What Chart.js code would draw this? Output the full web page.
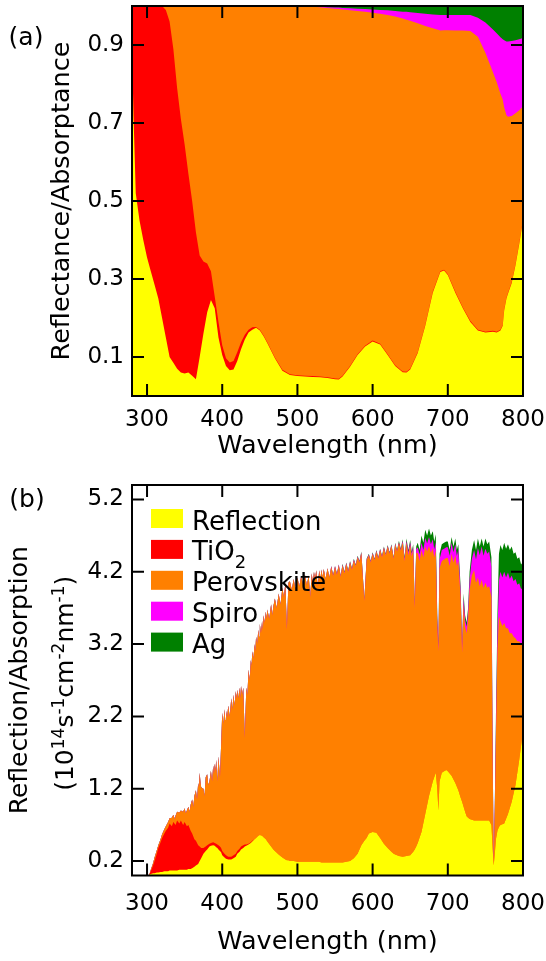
<!DOCTYPE html>
<html>
<head>
<meta charset="utf-8">
<script src="https://cdn.jsdelivr.net/npm/chart.js@4.4.1/dist/chart.umd.min.js"></script>
<style>
  body { margin: 0; background: #fff; }
  canvas { display: block; }
</style>
</head>
<body>
<canvas id="chartA" width="546" height="470"></canvas>
<canvas id="chartB" width="546" height="491"></canvas>
<script>
// layer names / colours shared by both panels
const layerNames = ['Reflection', 'TiO2', 'Perovskite', 'Spiro', 'Ag'];
const layerColors = ['#ffff00', '#ff0000', '#ff8000', '#ff00ff', '#008000'];

const xTicks = [300, 400, 500, 600, 700, 800];
const yTicksA = [0.1, 0.3, 0.5, 0.7, 0.9];
const yTicksB = [0.2, 1.2, 2.2, 3.2, 4.2, 5.2];

// (a) upper edge of each stacked band (cumulative)
const waveA = [280, 282, 285, 290, 295, 300, 305, 310, 315, 320, 325, 330, 335, 340, 345, 350, 355, 360, 365, 370,
  375, 380, 385, 390, 395, 400, 405, 410, 415, 420, 425, 430, 435, 440, 445, 450, 455, 460, 470, 480,
  490, 500, 510, 520, 530, 540, 550, 555, 560, 570, 580, 590, 600, 610, 620, 630, 640, 645, 650, 660,
  670, 680, 690, 695, 700, 710, 720, 730, 740, 750, 760, 765, 770, 773, 775, 778, 780, 785, 790, 795, 800];
const reflA = [0.89, 0.72, 0.52, 0.45, 0.40, 0.355, 0.32, 0.285, 0.25, 0.20, 0.15, 0.10, 0.085, 0.07, 0.06, 0.058, 0.06, 0.052, 0.043, 0.10,
  0.16, 0.215, 0.246, 0.225, 0.15, 0.105, 0.077, 0.066, 0.068, 0.09, 0.12, 0.145, 0.163, 0.17, 0.175, 0.168, 0.153, 0.135, 0.097, 0.065,
  0.054, 0.051, 0.05, 0.049, 0.048, 0.046, 0.043, 0.042, 0.05, 0.075, 0.105, 0.127, 0.14, 0.132, 0.105, 0.077, 0.061, 0.06, 0.068, 0.11,
  0.18, 0.265, 0.318, 0.322, 0.31, 0.265, 0.225, 0.19, 0.168, 0.163, 0.165, 0.163, 0.168, 0.18, 0.22, 0.25, 0.262, 0.29, 0.335, 0.39, 0.45];
const tio2A = [1, 1, 1, 1, 1, 1, 1, 1, 1, 1, 0.99, 0.96, 0.89, 0.79, 0.71, 0.645, 0.57, 0.5, 0.42, 0.36,
  0.345, 0.34, 0.32, 0.255, 0.19, 0.13, 0.097, 0.086, 0.09, 0.112, 0.138, 0.157, 0.17, 0.176, 0.177, 0.17, 0.155, 0.137, 0.099, 0.067,
  0.056, 0.053, 0.052, 0.051, 0.05, 0.048, 0.045, 0.044, 0.052, 0.077, 0.107, 0.129, 0.142, 0.134, 0.107, 0.079, 0.063, 0.062, 0.07, 0.112,
  0.182, 0.267, 0.32, 0.324, 0.312, 0.267, 0.227, 0.192, 0.17, 0.165, 0.167, 0.165, 0.17, 0.182, 0.222, 0.252, 0.264, 0.292, 0.337, 0.392, 0.452];
const perovA = [1, 1, 1, 1, 1, 1, 1, 1, 1, 1, 1, 1, 1, 1, 1, 1, 1, 1, 1, 1,
  1, 1, 1, 1, 1, 1, 1, 1, 1, 1, 1, 1, 1, 1, 1, 1, 1, 1, 1, 1,
  1, 1, 0.999, 0.998, 0.997, 0.995, 0.993, 0.992, 0.991, 0.989, 0.987, 0.985, 0.983, 0.98, 0.977, 0.973, 0.968, 0.965, 0.962, 0.956,
  0.949, 0.943, 0.937, 0.938, 0.938, 0.937, 0.937, 0.936, 0.921, 0.88, 0.83, 0.805, 0.775, 0.76, 0.74, 0.72, 0.716, 0.718, 0.725, 0.733, 0.742];
const spiroA = [1, 1, 1, 1, 1, 1, 1, 1, 1, 1, 1, 1, 1, 1, 1, 1, 1, 1, 1, 1,
  1, 1, 1, 1, 1, 1, 1, 1, 1, 1, 1, 1, 1, 1, 1, 1, 1, 1, 1, 1,
  1, 1, 0.999, 0.998, 0.998, 0.997, 0.996, 0.996, 0.995, 0.994, 0.993, 0.992, 0.991, 0.99, 0.989, 0.987, 0.985, 0.985, 0.984, 0.982,
  0.98, 0.978, 0.977, 0.977, 0.977, 0.977, 0.977, 0.977, 0.97, 0.958, 0.94, 0.93, 0.92, 0.915, 0.912, 0.909, 0.909, 0.91, 0.912, 0.915, 0.918];
const agA = [1, 1, 1, 1, 1, 1, 1, 1, 1, 1, 1, 1, 1, 1, 1, 1, 1, 1, 1, 1,
  1, 1, 1, 1, 1, 1, 1, 1, 1, 1, 1, 1, 1, 1, 1, 1, 1, 1, 1, 1,
  1, 1, 1, 1, 1, 1, 1, 1, 1, 1, 1, 1, 1, 1, 1, 1, 1, 1, 1, 1,
  1, 1, 1, 1, 1, 1, 1, 1, 1, 1, 1, 1, 1, 1, 1, 1, 1, 1, 1, 1, 1];

// (b) photon flux, upper edge of each band, 10^14 s^-1 cm^-2 nm^-1
// reflection and TiO2 edges
const waveBLow = [300, 303, 305, 308, 310, 313, 315, 318, 320, 323,
  325, 328, 330, 333, 335, 338, 340, 343, 345, 348,
  350, 353, 355, 358, 360, 363, 365, 368, 370, 372,
  375, 378, 380, 383, 385, 388, 390, 392, 393.5, 395,
  397, 398.5, 400, 403, 405, 408, 410, 412, 415, 418,
  420, 423, 425, 428, 430, 432, 435, 438, 440, 443,
  445, 448, 450, 453, 455, 458, 460, 465, 468, 470,
  475, 480, 484, 486, 488, 490, 495, 500, 505, 510,
  515, 517, 519, 522, 525, 527, 529, 532, 535, 540,
  545, 550, 555, 560, 565, 570, 575, 580, 585, 589,
  592, 595, 600, 605, 610, 615, 620, 625, 628, 630,
  635, 640, 645, 650, 654, 656, 658, 660, 665, 670,
  675, 680, 684, 686, 687.5, 689, 692, 695, 698, 700,
  705, 710, 714, 717, 719, 721, 723, 725, 727, 729,
  732, 735, 740, 745, 750, 755, 758, 759.5, 761, 762.5,
  764, 766, 768, 770, 775, 780, 785, 790, 795, 800];
const reflB = [0, 0.01, 0.02, 0.03, 0.03, 0.04, 0.04, 0.05, 0.05, 0.06,
  0.06, 0.06, 0.07, 0.07, 0.07, 0.07, 0.07, 0.08, 0.08, 0.08,
  0.08, 0.08, 0.09, 0.09, 0.1, 0.12, 0.14, 0.16, 0.2, 0.24,
  0.3, 0.34, 0.36, 0.4, 0.41, 0.42, 0.41, 0.39, 0.38, 0.36,
  0.34, 0.32, 0.28, 0.25, 0.23, 0.22, 0.22, 0.22, 0.24, 0.26,
  0.3, 0.33, 0.36, 0.38, 0.4, 0.41, 0.43, 0.45, 0.47, 0.5,
  0.52, 0.55, 0.56, 0.55, 0.53, 0.5, 0.47, 0.4, 0.36, 0.34,
  0.29, 0.25, 0.22, 0.21, 0.21, 0.2, 0.2, 0.19, 0.19, 0.19,
  0.19, 0.19, 0.19, 0.19, 0.19, 0.19, 0.19, 0.18, 0.18, 0.18,
  0.18, 0.18, 0.18, 0.18, 0.19, 0.2, 0.24, 0.3, 0.42, 0.48,
  0.52, 0.58, 0.6, 0.59, 0.52, 0.44, 0.38, 0.33, 0.3, 0.29,
  0.27, 0.26, 0.27, 0.28, 0.33, 0.36, 0.4, 0.45, 0.6, 0.85,
  1.1, 1.3, 1.42, 1.2, 0.9, 1.3, 1.42, 1.44, 1.46, 1.44,
  1.38, 1.28, 1.18, 1.08, 1.02, 0.95, 0.88, 0.82, 0.8, 0.78,
  0.77, 0.76, 0.76, 0.76, 0.76, 0.76, 0.7, 0.4, 0.14, 0.3,
  0.5, 0.62, 0.67, 0.7, 0.72, 0.85, 1.02, 1.25, 1.6, 2.0];
const tio2B = [0, 0.01, 0.06, 0.14, 0.2, 0.3, 0.38, 0.46, 0.52, 0.58,
  0.62, 0.66, 0.72, 0.68, 0.74, 0.7, 0.76, 0.72, 0.76, 0.7,
  0.74, 0.68, 0.7, 0.62, 0.58, 0.5, 0.48, 0.42, 0.4, 0.38,
  0.38, 0.4, 0.42, 0.44, 0.45, 0.46, 0.45, 0.44, 0.43, 0.42,
  0.4, 0.38, 0.34, 0.3, 0.28, 0.26, 0.26, 0.26, 0.28, 0.3,
  0.34, 0.37, 0.4, 0.42, 0.43, 0.43, 0.44, 0.46, 0.48, 0.5,
  0.52, 0.55, 0.56, 0.55, 0.53, 0.5, 0.47, 0.4, 0.36, 0.34,
  0.29, 0.25, 0.22, 0.21, 0.21, 0.2, 0.2, 0.19, 0.19, 0.19,
  0.19, 0.19, 0.19, 0.19, 0.19, 0.19, 0.19, 0.18, 0.18, 0.18,
  0.18, 0.18, 0.18, 0.18, 0.19, 0.2, 0.24, 0.3, 0.42, 0.48,
  0.52, 0.58, 0.6, 0.59, 0.52, 0.44, 0.38, 0.33, 0.3, 0.29,
  0.27, 0.26, 0.27, 0.28, 0.33, 0.36, 0.4, 0.45, 0.6, 0.85,
  1.1, 1.3, 1.42, 1.2, 0.9, 1.3, 1.42, 1.44, 1.46, 1.44,
  1.38, 1.28, 1.18, 1.08, 1.02, 0.95, 0.88, 0.82, 0.8, 0.78,
  0.77, 0.76, 0.76, 0.76, 0.76, 0.76, 0.7, 0.4, 0.14, 0.3,
  0.5, 0.62, 0.67, 0.7, 0.72, 0.85, 1.02, 1.25, 1.6, 2.0];

// perovskite / spiro / Ag edges, finer sampling for the solar lines
const waveBTop = [300, 303, 305, 308, 310, 313, 315, 318, 320, 323, 325, 328, 330, 333, 335,
  337, 338, 340, 343, 345, 348, 350, 351.5, 353, 355, 356.5, 358, 360, 361.5, 363, 365, 366.5,
  368, 369, 370, 371, 372, 375, 376.5, 378, 380, 381.5, 383, 385, 386.5, 388, 389, 390, 391, 392, 393.5, 395, 397, 398.5,
  400, 401.5, 403, 404, 405, 406.5, 408, 410, 412, 413.5, 415, 416.5, 418, 419, 420, 421.5, 423, 424, 425, 426.5, 428,
  430, 432, 433.5, 435, 436.5, 438, 439, 440, 441.5, 443, 444, 445, 446.5, 448, 449, 450, 451.5, 453, 454, 455, 456.5, 458, 459, 460,
  462.5, 465, 466.5, 468, 470, 472.5, 475, 477.5, 480, 482, 484, 486, 488, 490, 492.5, 495, 497.5, 500,
  502.5, 505, 507.5, 510, 512.5, 515, 517, 519, 520.5, 522, 523.5, 525, 527, 529, 530.5, 532, 533.5, 535, 537.5, 540, 542.5,
  545, 547.5, 550, 552.5, 555, 557.5, 560, 562.5, 565, 567.5, 570, 572.5, 575, 577.5, 580, 582.5, 585,
  589, 592, 595, 597.5, 600, 602.5, 605, 607.5, 610, 612.5, 615, 617.5, 620, 622.5, 625, 628, 630,
  632.5, 635, 637.5, 640, 642.5, 645, 647.5, 650, 652, 654, 656, 658, 660,
  662.5, 665, 667.5, 670, 672.5, 675, 677.5, 680, 682, 684, 686, 687.5, 689, 692, 695, 698, 700,
  702.5, 705, 707.5, 710, 712, 714, 717, 719, 721, 723, 725, 727, 729, 732,
  735, 737.5, 740, 742.5, 745, 747.5, 750, 752.5, 755, 758, 759.5, 761, 762.5, 764, 766,
  768, 770, 772.5, 775, 777.5, 780, 782.5, 785, 787.5, 790, 792.5, 795, 797.5, 800];
const perovB = [0, 0.01, 0.08, 0.17, 0.25, 0.35, 0.42, 0.5, 0.57, 0.64, 0.68, 0.74, 0.79, 0.8, 0.84,
  0.78, 0.83, 0.88, 0.87, 0.9, 0.88, 0.93, 0.86, 0.9, 0.95, 0.88, 0.98, 1.05, 0.95, 1.1, 1.18, 1.05,
  1.28, 1.22, 1.42, 1.3, 1.22, 1.2, 1.1, 1.36, 1.4, 1.25, 1.3, 1.45, 1.3, 1.52, 1.4, 1.55, 1.45, 1.6, 1.3, 1.65, 1.35, 1.8,
  2.25, 2.1, 2.3, 2.15, 2.28, 2.18, 2.35, 2.2, 2.45, 2.3, 2.5, 2.35, 2.55, 2.45, 2.57, 2.45, 2.6, 2.45, 2.62, 2.5, 2.6,
  1.9, 2.6, 2.5, 2.85, 2.7, 2.98, 2.9, 3.1, 3.0, 3.2, 3.1, 3.3, 3.2, 3.4, 3.3, 3.48, 3.35, 3.52, 3.4, 3.6, 3.5, 3.65, 3.55, 3.68,
  3.55, 3.75, 3.6, 3.72, 3.83, 3.7, 3.9, 3.75, 3.98, 3.85, 4.05, 3.4, 4.05, 4.07, 3.95, 4.1, 3.95, 4.12,
  4.0, 4.14, 4.02, 4.16, 4.02, 4.15, 3.85, 4.18, 4.05, 4.2, 4.1, 4.22, 4.0, 4.22, 4.1, 4.23, 4.12, 4.24, 4.1, 4.25, 4.12,
  4.27, 4.14, 4.27, 4.16, 4.29, 4.13, 4.29, 4.18, 4.31, 4.2, 4.33, 4.23, 4.36, 4.28, 4.4, 4.33, 4.46,
  3.8, 4.36, 4.43, 4.33, 4.45, 4.36, 4.48, 4.38, 4.5, 4.4, 4.53, 4.43, 4.55, 4.45, 4.56, 4.38, 4.58,
  4.48, 4.6, 4.49, 4.61, 4.35, 4.6, 4.43, 4.57, 4.41, 4.51, 3.7, 4.46, 4.46,
  4.35, 4.5, 4.4, 4.55, 4.48, 4.56, 4.46, 4.53, 4.4, 4.5, 3.45, 3.1, 4.25, 4.35, 4.37, 4.39, 4.39,
  4.28, 4.45, 4.33, 4.43, 4.28, 4.35, 3.85, 3.08, 3.75, 3.45, 3.35, 3.55, 3.95, 4.15,
  4.22, 4.05, 4.12, 4.0, 4.09, 3.98, 4.05, 3.98, 4.0, 3.85, 1.8, 0.15, 0.9, 1.9, 3.1,
  3.58, 3.52, 3.45, 3.49, 3.42, 3.42, 3.35, 3.35, 3.3, 3.28, 3.24, 3.24, 3.2, 3.21];
const spiroB = [0, 0.01, 0.08, 0.17, 0.25, 0.35, 0.42, 0.5, 0.57, 0.64, 0.68, 0.74, 0.79, 0.8, 0.84,
  0.78, 0.83, 0.88, 0.87, 0.9, 0.88, 0.93, 0.86, 0.9, 0.95, 0.88, 0.98, 1.05, 0.95, 1.1, 1.18, 1.05,
  1.28, 1.22, 1.42, 1.3, 1.22, 1.2, 1.1, 1.36, 1.4, 1.25, 1.3, 1.45, 1.3, 1.52, 1.4, 1.55, 1.45, 1.6, 1.3, 1.65, 1.35, 1.8,
  2.25, 2.1, 2.3, 2.15, 2.28, 2.18, 2.35, 2.2, 2.45, 2.3, 2.5, 2.35, 2.55, 2.45, 2.57, 2.45, 2.6, 2.45, 2.62, 2.5, 2.6,
  1.9, 2.6, 2.5, 2.85, 2.7, 2.98, 2.9, 3.1, 3.0, 3.2, 3.1, 3.3, 3.2, 3.4, 3.3, 3.48, 3.35, 3.52, 3.4, 3.6, 3.5, 3.65, 3.55, 3.68,
  3.55, 3.75, 3.6, 3.72, 3.83, 3.7, 3.9, 3.75, 3.98, 3.85, 4.05, 3.4, 4.05, 4.07, 3.95, 4.1, 3.95, 4.12,
  4.0, 4.14, 4.02, 4.16, 4.02, 4.15, 3.85, 4.18, 4.05, 4.2, 4.1, 4.22, 4.0, 4.22, 4.1, 4.23, 4.12, 4.24, 4.1, 4.25, 4.12,
  4.28, 4.15, 4.28, 4.17, 4.3, 4.14, 4.3, 4.19, 4.32, 4.21, 4.34, 4.24, 4.37, 4.29, 4.41, 4.34, 4.47,
  3.81, 4.37, 4.44, 4.34, 4.46, 4.37, 4.49, 4.39, 4.51, 4.41, 4.54, 4.44, 4.56, 4.46, 4.57, 4.39, 4.59,
  4.49, 4.61, 4.5, 4.63, 4.38, 4.63, 4.47, 4.61, 4.45, 4.55, 3.73, 4.51, 4.54,
  4.44, 4.6, 4.5, 4.67, 4.59, 4.68, 4.58, 4.65, 4.51, 4.61, 3.53, 3.16, 4.37, 4.5, 4.52, 4.54, 4.54,
  4.42, 4.6, 4.47, 4.58, 4.42, 4.5, 3.94, 3.15, 3.84, 3.54, 3.44, 3.64, 4.1, 4.38,
  4.5, 4.37, 4.53, 4.43, 4.55, 4.42, 4.52, 4.45, 4.48, 4.27, 1.92, 0.155, 0.96, 2.05, 3.35,
  4.08, 4.2, 4.12, 4.2, 4.12, 4.19, 4.1, 4.15, 4.07, 4.1, 4.02, 4.04, 3.96, 3.99];
const agB = [0, 0.01, 0.08, 0.17, 0.25, 0.35, 0.42, 0.5, 0.57, 0.64, 0.68, 0.74, 0.79, 0.8, 0.84,
  0.78, 0.83, 0.88, 0.87, 0.9, 0.88, 0.93, 0.86, 0.9, 0.95, 0.88, 0.98, 1.05, 0.95, 1.1, 1.18, 1.05,
  1.28, 1.22, 1.42, 1.3, 1.22, 1.2, 1.1, 1.36, 1.4, 1.25, 1.3, 1.45, 1.3, 1.52, 1.4, 1.55, 1.45, 1.6, 1.3, 1.65, 1.35, 1.8,
  2.25, 2.1, 2.3, 2.15, 2.28, 2.18, 2.35, 2.2, 2.45, 2.3, 2.5, 2.35, 2.55, 2.45, 2.57, 2.45, 2.6, 2.45, 2.62, 2.5, 2.6,
  1.9, 2.6, 2.5, 2.85, 2.7, 2.98, 2.9, 3.1, 3.0, 3.2, 3.1, 3.3, 3.2, 3.4, 3.3, 3.48, 3.35, 3.52, 3.4, 3.6, 3.5, 3.65, 3.55, 3.68,
  3.55, 3.75, 3.6, 3.72, 3.83, 3.7, 3.9, 3.75, 3.98, 3.85, 4.05, 3.4, 4.05, 4.07, 3.95, 4.1, 3.95, 4.12,
  4.0, 4.14, 4.02, 4.16, 4.02, 4.15, 3.85, 4.18, 4.05, 4.2, 4.1, 4.22, 4.0, 4.22, 4.1, 4.23, 4.12, 4.24, 4.1, 4.25, 4.12,
  4.28, 4.16, 4.28, 4.18, 4.3, 4.15, 4.31, 4.2, 4.33, 4.22, 4.35, 4.25, 4.38, 4.3, 4.42, 4.35, 4.48,
  3.82, 4.38, 4.45, 4.35, 4.47, 4.38, 4.5, 4.4, 4.52, 4.42, 4.55, 4.45, 4.57, 4.47, 4.58, 4.4, 4.6,
  4.5, 4.63, 4.52, 4.65, 4.4, 4.66, 4.5, 4.64, 4.48, 4.58, 3.75, 4.55, 4.6,
  4.5, 4.7, 4.6, 4.78, 4.7, 4.8, 4.7, 4.76, 4.62, 4.72, 3.6, 3.22, 4.45, 4.58, 4.6, 4.62, 4.62,
  4.5, 4.68, 4.55, 4.66, 4.5, 4.58, 4.0, 3.2, 3.9, 3.6, 3.5, 3.7, 4.2, 4.5,
  4.64, 4.5, 4.66, 4.55, 4.66, 4.55, 4.66, 4.58, 4.62, 4.4, 2.0, 0.16, 1.0, 2.2, 3.6,
  4.45, 4.57, 4.5, 4.6, 4.52, 4.58, 4.5, 4.55, 4.45, 4.47, 4.38, 4.4, 4.3, 4.34];

const FONT = "'DejaVu Sans', sans-serif";
Chart.defaults.font.family = FONT;
Chart.defaults.color = '#000';

// every band is filled from 0; dataset 0 ends up on top, so the bands stack visually
function buildLayers(layers) {
  return layers.map(([waves, vals], i) => ({
    label: layerNames[i],
    data: waves.map((w, j) => ({ x: w, y: vals[j] })),
    backgroundColor: layerColors[i],
    borderColor: 'rgba(0,0,0,0)',
    borderWidth: 0,
    pointRadius: 0,
    fill: 'origin',
    tension: 0
  }));
}

// text with super/subscripts, optionally rotated
function drawRich(ctx, parts, x, y, size, rotate, align) {
  const small = Math.round(size * 0.68);
  ctx.save();
  ctx.translate(x, y);
  if (rotate) ctx.rotate(-Math.PI / 2);
  ctx.textBaseline = 'alphabetic';
  ctx.textAlign = 'left';
  ctx.fillStyle = '#000';
  let total = 0;
  const widths = parts.map(([t, k]) => {
    ctx.font = (k === 'n' ? size : small) + 'px ' + FONT;
    const w = ctx.measureText(t).width;
    total += w;
    return w;
  });
  let cx = align === 'left' ? 0 : -total / 2;
  parts.forEach(([t, k], i) => {
    ctx.font = (k === 'n' ? size : small) + 'px ' + FONT;
    const dy = k === 'sup' ? -size * 0.36 : (k === 'sub' ? size * 0.28 : 0);
    ctx.fillText(t, cx, dy);
    cx += widths[i];
  });
  ctx.restore();
}

const TICK = 12;
// box round the plot + inward ticks on all four sides
const framePlugin = {
  id: 'frame',
  afterDatasetsDraw(chart) {
    const { ctx, chartArea: a, scales } = chart;
    ctx.save();
    ctx.strokeStyle = '#000';
    ctx.lineWidth = 2;
    ctx.beginPath();
    scales.x.ticks.forEach(t => {
      const px = scales.x.getPixelForValue(t.value);
      ctx.moveTo(px, a.bottom); ctx.lineTo(px, a.bottom - TICK);
      ctx.moveTo(px, a.top); ctx.lineTo(px, a.top + TICK);
    });
    scales.y.ticks.forEach(t => {
      const py = scales.y.getPixelForValue(t.value);
      ctx.moveTo(a.left, py); ctx.lineTo(a.left + TICK, py);
      ctx.moveTo(a.right, py); ctx.lineTo(a.right - TICK, py);
    });
    ctx.stroke();
    ctx.strokeRect(a.left, a.top, a.right - a.left, a.bottom - a.top);
    ctx.restore();
  }
};

const panelPlugin = {
  id: 'panel',
  afterDraw(chart, args, opts) {
    const ctx = chart.ctx;
    ctx.save();
    ctx.font = '25px ' + FONT;
    ctx.fillStyle = '#000';
    ctx.textAlign = 'center';
    ctx.textBaseline = 'middle';
    ctx.fillText(opts.text, opts.x, opts.y);
    ctx.restore();
  }
};

// legend inside plot (b), drawn from the datasets
const legendPlugin = {
  id: 'insideLegend',
  afterDraw(chart) {
    const { ctx, chartArea: a } = chart;
    chart.data.datasets.forEach((ds, i) => {
      const cy = a.top + 33.5 + i * 30.9;
      ctx.fillStyle = ds.backgroundColor;
      ctx.fillRect(a.left + 19, cy - 9.5, 32, 19);
      const parts = ds.label === 'TiO2' ? [['TiO', 'n'], ['2', 'sub']] : [[ds.label, 'n']];
      drawRich(ctx, parts, a.left + 60, cy + 11, 26, false, 'left');
    });
  }
};

const yTitleB = {
  id: 'yTitleB',
  afterDraw(chart) {
    const { ctx, chartArea: a } = chart;
    const cy = (a.top + a.bottom) / 2;
    drawRich(ctx, [['Reflection/Absorption', 'n']], 27, cy, 25, true);
    drawRich(ctx, [['(10', 'n'], ['14', 'sup'], ['s', 'n'], ['-1', 'sup'], ['cm', 'n'], ['-2', 'sup'],
      ['nm', 'n'], ['-1', 'sup'], [')', 'n']], 73, cy + 3, 25, true);
  }
};

function xScale(height, pad, titlePad) {
  return {
    type: 'linear', min: 280, max: 800,
    grid: { display: false, drawTicks: false }, border: { display: false },
    afterBuildTicks: s => { s.ticks = xTicks.map(v => ({ value: v })); },
    afterFit: s => { s.height = height; s.paddingLeft = 0; s.paddingRight = 0; },
    ticks: { padding: pad, font: { size: 23 }, maxRotation: 0, autoSkip: false },
    title: { display: true, text: 'Wavelength (nm)', font: { size: 25.5 }, padding: { top: 0, bottom: titlePad } }
  };
}

function yScale(min, max, ticks, title) {
  return {
    type: 'linear', min: min, max: max,
    grid: { display: false, drawTicks: false }, border: { display: false },
    afterBuildTicks: s => { s.ticks = ticks.map(v => ({ value: v })); },
    afterFit: s => { s.width = 132; s.paddingTop = 0; s.paddingBottom = 0; },
    ticks: { padding: 8, font: { size: 23 }, callback: v => v.toFixed(1) },
    title: title
  };
}

new Chart(document.getElementById('chartA'), {
  type: 'line',
  data: { datasets: buildLayers([[waveA, reflA], [waveA, tio2A], [waveA, perovA], [waveA, spiroA], [waveA, agA]]) },
  options: {
    responsive: false,
    animation: false,
    layout: { autoPadding: false, padding: { top: 6, right: 23, bottom: 0, left: 0 } },
    plugins: {
      legend: { display: false },
      tooltip: { enabled: false },
      panel: { text: '(a)', x: 26, y: 38 }
    },
    scales: {
      x: xScale(74, 10, 8),
      y: yScale(0, 1, yTicksA, {
        display: true, text: 'Reflectance/Absorptance', font: { size: 25.5 }, padding: { top: 47, bottom: 0 }
      })
    }
  },
  plugins: [framePlugin, panelPlugin]
});

new Chart(document.getElementById('chartB'), {
  type: 'line',
  data: { datasets: buildLayers([[waveBLow, reflB], [waveBLow, tio2B], [waveBTop, perovB], [waveBTop, spiroB], [waveBTop, agB]]) },
  options: {
    responsive: false,
    animation: false,
    layout: { autoPadding: false, padding: { top: 15, right: 23, bottom: 0, left: 0 } },
    plugins: {
      legend: { display: false },
      tooltip: { enabled: false },
      panel: { text: '(b)', x: 27, y: 30 }
    },
    scales: {
      x: xScale(85.5, 15, 3),
      y: yScale(0, 5.4, yTicksB, { display: false })
    }
  },
  plugins: [framePlugin, panelPlugin, legendPlugin, yTitleB]
});
</script>
</body>
</html>
